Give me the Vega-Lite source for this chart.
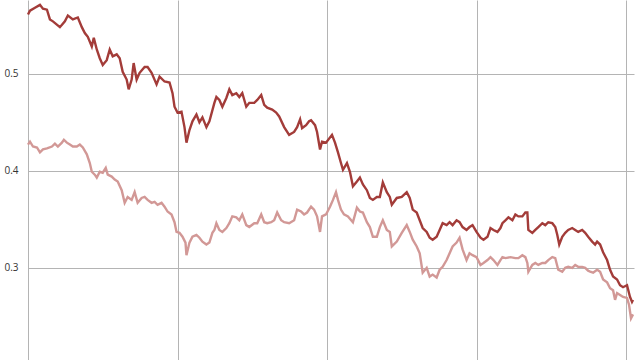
{
"$schema": "https://vega.github.io/schema/vega-lite/v6.json",
"width": 606, "height": 360,
"autosize": {"type": "none"},
"padding": {"left": 28, "top": 0, "right": 6, "bottom": 0},
"background": "white",
"config": {"view": {"stroke": null}},
"datasets": {
"dark": [[0,0.561],[2,0.565],[7,0.568],[12,0.571],[15,0.567],[19,0.566],[22,0.556],[25,0.554],[32,0.548],[37,0.554],[40,0.560],[45,0.556],[50,0.558],[54,0.548],[57,0.542],[60,0.538],[64,0.528],[66,0.537],[69,0.525],[72,0.516],[75,0.509],[79,0.514],[82,0.525],[85,0.518],[89,0.520],[92,0.516],[95,0.502],[99,0.494],[101,0.484],[104,0.494],[106,0.511],[109,0.494],[112,0.501],[117,0.507],[120,0.507],[124,0.501],[129,0.489],[132,0.497],[137,0.492],[142,0.491],[145,0.480],[147,0.466],[150,0.460],[154,0.461],[157,0.445],[159,0.429],[162,0.442],[165,0.451],[169,0.458],[172,0.450],[175,0.455],[179,0.445],[182,0.451],[187,0.470],[189,0.476],[192,0.473],[195,0.466],[199,0.475],[202,0.484],[205,0.478],[209,0.480],[212,0.476],[215,0.480],[219,0.466],[222,0.470],[227,0.470],[230,0.473],[234,0.478],[237,0.468],[240,0.465],[245,0.463],[249,0.460],[252,0.456],[257,0.445],[262,0.437],[267,0.440],[270,0.445],[273,0.453],[275,0.444],[279,0.447],[282,0.451],[284,0.452],[288,0.447],[290,0.440],[293,0.422],[295,0.430],[299,0.429],[305,0.437],[308,0.429],[311,0.419],[314,0.408],[316,0.401],[320,0.408],[323,0.399],[326,0.384],[330,0.389],[333,0.393],[336,0.386],[340,0.380],[343,0.372],[346,0.370],[350,0.373],[353,0.373],[356,0.388],[360,0.378],[363,0.373],[365,0.365],[370,0.372],[375,0.373],[380,0.378],[383,0.372],[386,0.360],[390,0.357],[393,0.349],[396,0.341],[400,0.337],[403,0.331],[406,0.329],[410,0.332],[413,0.339],[416,0.346],[420,0.344],[423,0.347],[426,0.344],[430,0.349],[433,0.347],[436,0.342],[440,0.339],[443,0.342],[446,0.344],[450,0.337],[454,0.331],[457,0.329],[461,0.332],[464,0.341],[467,0.339],[471,0.337],[474,0.341],[476,0.346],[479,0.349],[482,0.352],[486,0.349],[489,0.355],[492,0.353],[496,0.353],[499,0.357],[501,0.357],[502,0.339],[506,0.336],[509,0.339],[512,0.342],[516,0.346],[519,0.344],[522,0.347],[526,0.346],[529,0.342],[531,0.334],[533,0.324],[536,0.332],[539,0.336],[542,0.339],[546,0.341],[549,0.339],[552,0.337],[556,0.339],[559,0.336],[562,0.332],[566,0.327],[569,0.324],[571,0.327],[574,0.324],[577,0.316],[581,0.308],[584,0.298],[587,0.291],[591,0.288],[594,0.282],[597,0.280],[601,0.282],[604,0.270],[606,0.265],[607,0.267]],
"light": [[0,0.427],[2,0.430],[5,0.425],[9,0.424],[12,0.419],[15,0.422],[19,0.423],[24,0.425],[27,0.428],[30,0.425],[34,0.429],[36,0.432],[39,0.429],[42,0.427],[45,0.425],[49,0.425],[52,0.427],[55,0.424],[59,0.417],[62,0.408],[64,0.399],[67,0.396],[69,0.393],[72,0.399],[75,0.398],[78,0.403],[80,0.396],[84,0.394],[87,0.391],[90,0.389],[94,0.380],[97,0.367],[100,0.373],[104,0.370],[107,0.378],[110,0.367],[114,0.372],[117,0.373],[120,0.370],[124,0.367],[127,0.368],[130,0.365],[134,0.367],[137,0.363],[140,0.358],[144,0.355],[147,0.347],[149,0.337],[152,0.336],[155,0.332],[158,0.326],[159,0.313],[162,0.326],[165,0.332],[169,0.334],[172,0.331],[175,0.327],[179,0.324],[182,0.326],[185,0.336],[187,0.339],[189,0.346],[192,0.339],[195,0.337],[199,0.341],[202,0.346],[205,0.353],[209,0.352],[212,0.349],[215,0.355],[219,0.344],[222,0.342],[227,0.346],[230,0.346],[234,0.355],[237,0.347],[240,0.346],[244,0.347],[247,0.349],[250,0.357],[254,0.349],[257,0.347],[262,0.346],[267,0.349],[270,0.360],[274,0.358],[277,0.355],[280,0.357],[284,0.363],[287,0.360],[290,0.353],[293,0.337],[295,0.353],[299,0.355],[303,0.363],[306,0.370],[309,0.378],[311,0.370],[314,0.360],[317,0.355],[321,0.353],[326,0.347],[330,0.362],[333,0.358],[336,0.357],[340,0.347],[343,0.342],[346,0.332],[350,0.332],[353,0.342],[356,0.349],[360,0.339],[363,0.337],[365,0.322],[370,0.327],[375,0.336],[380,0.344],[383,0.337],[386,0.329],[390,0.322],[393,0.315],[396,0.295],[400,0.300],[403,0.291],[406,0.293],[410,0.290],[413,0.298],[416,0.301],[420,0.308],[423,0.315],[426,0.322],[430,0.326],[433,0.331],[436,0.319],[440,0.308],[443,0.315],[446,0.313],[450,0.311],[454,0.303],[457,0.305],[461,0.308],[464,0.311],[467,0.308],[471,0.303],[474,0.308],[476,0.311],[479,0.310],[484,0.311],[489,0.310],[492,0.310],[496,0.313],[499,0.311],[501,0.305],[502,0.296],[506,0.303],[509,0.305],[512,0.303],[516,0.305],[519,0.305],[522,0.308],[526,0.311],[529,0.310],[532,0.298],[536,0.296],[539,0.300],[542,0.301],[546,0.300],[549,0.303],[552,0.301],[556,0.301],[559,0.300],[562,0.297],[564,0.296],[567,0.295],[571,0.298],[574,0.296],[577,0.288],[581,0.285],[584,0.279],[587,0.277],[589,0.267],[591,0.274],[594,0.272],[597,0.270],[601,0.269],[603,0.262],[605,0.248],[607,0.252]]
},
"layer": [
{
"data": {"name": "light"},
"transform": [{"calculate": "datum[0]", "as": "t"}, {"calculate": "datum[1]", "as": "v"}],
"mark": {"type": "line", "strokeWidth": 2.4, "color": "#d29896"},
"encoding": {
"x": {"field": "t", "type": "quantitative", "scale": {"domain": [0, 608], "nice": false, "zero": false}, "axis": {"values": [0, 150, 300, 450, 600], "labels": false, "ticks": false, "domain": false, "title": null, "grid": true, "gridColor": "#b4b4b4", "gridOpacity": 1}},
"y": {"field": "v", "type": "quantitative", "scale": {"domain": [0.205, 0.576], "nice": false, "zero": false}, "axis": {"values": [0.3, 0.4, 0.5], "format": ".1f", "ticks": false, "domain": false, "title": null, "labelPadding": 10, "labelFont": "Open Sans", "labelFontSize": 10, "labelColor": "#333333", "grid": true, "gridColor": "#b4b4b4", "gridOpacity": 1}}
}
},
{
"data": {"name": "dark"},
"transform": [{"calculate": "datum[0]", "as": "t"}, {"calculate": "datum[1]", "as": "v"}],
"mark": {"type": "line", "strokeWidth": 2.4, "color": "#a33c39"},
"encoding": {
"x": {"field": "t", "type": "quantitative"},
"y": {"field": "v", "type": "quantitative"}
}
}
]
}
